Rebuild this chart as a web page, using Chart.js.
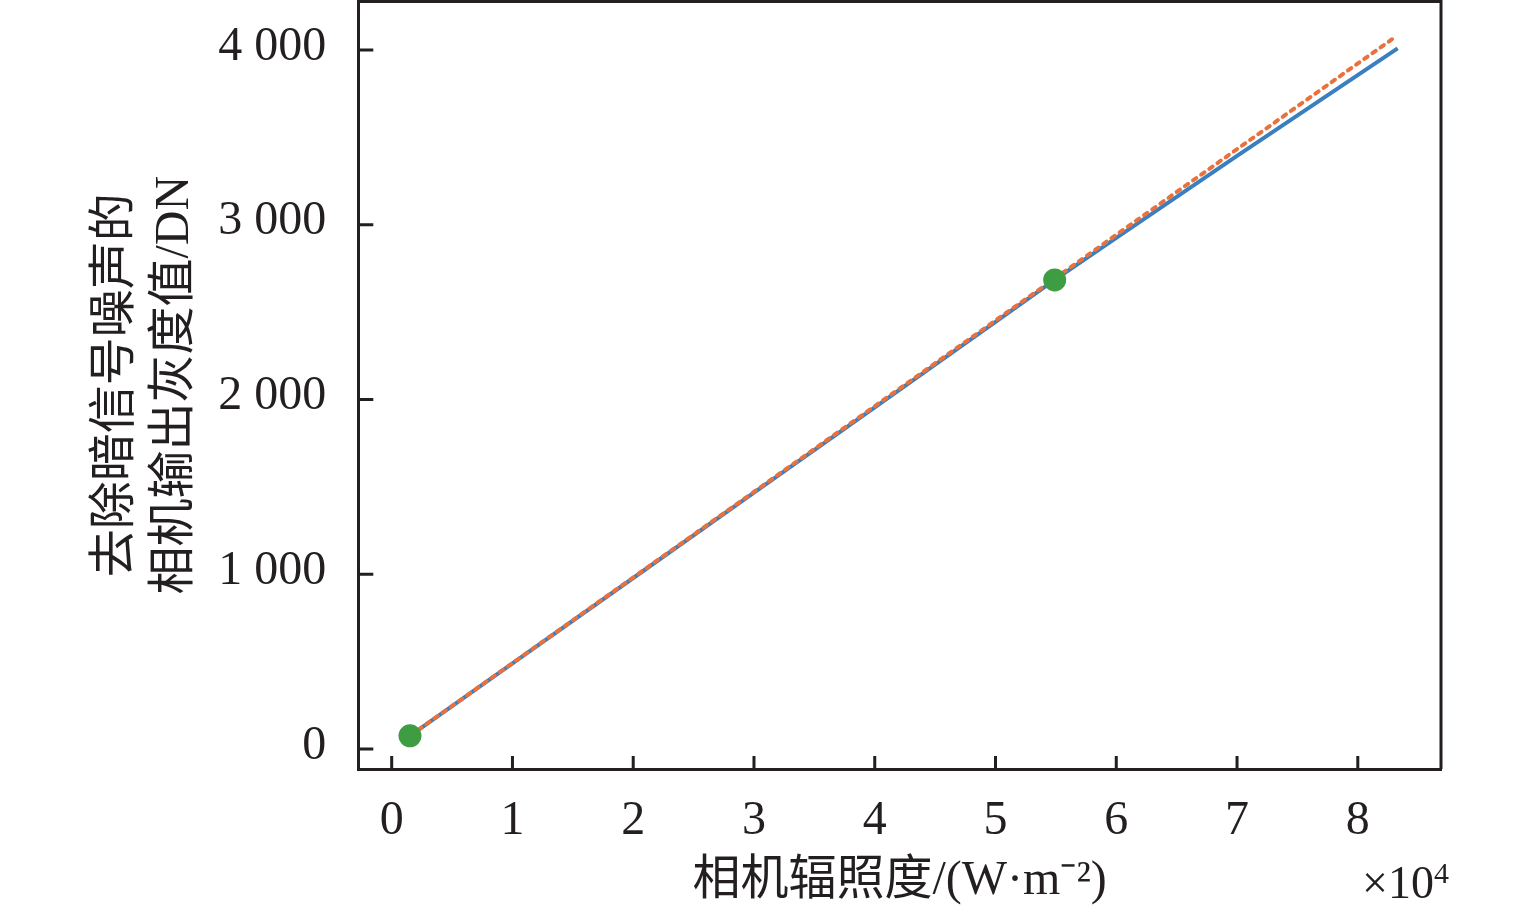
<!DOCTYPE html>
<html>
<head>
<meta charset="utf-8">
<script src="https://cdn.jsdelivr.net/npm/chart.js@4/dist/chart.umd.min.js"></script>
<style>
  html, body { margin: 0; padding: 0; background: #ffffff; }
  #c { display: block; }
</style>
</head>
<body>
<canvas id="c" width="1535" height="913"></canvas>
<script>
// ---- data (x in W·m^-2, y in DN) ----
const measuredX = [1515, 10000, 20000, 30000, 40000, 50000, 54900, 60000, 70000, 83300];
const measuredY = [76, 491, 979, 1468, 1956, 2445, 2685, 2925, 3395, 4010];
const fitX = [1515, 83100];
const fitY = [76, 4075];
const markerX = [1515, 54900];
const markerY = [76, 2685];
const xTicks = [0, 10000, 20000, 30000, 40000, 50000, 60000, 70000, 80000];
const yTicks = [0, 1000, 2000, 3000, 4000];
const xTitle = '相机辐照度/(W·m⁻²)';
const yTitle = ['去除暗信号噪声的', '相机输出灰度值/DN'];
const xExponent = '4';

const AXIS = '#231f20';
const FONT = '"Liberation Serif", "Noto Sans CJK SC", serif';

const pts = (xs, ys) => xs.map((x, i) => ({ x: x, y: ys[i] }));
const fmtY = v => {
  const s = String(Math.round(v));
  return s.length > 3 ? s.slice(0, s.length - 3) + ' ' + s.slice(-3) : s;
};

const frame = {
  id: 'frame',
  afterDraw(chart) {
    const { ctx, chartArea: a, scales } = chart;
    ctx.save();
    ctx.strokeStyle = AXIS;
    ctx.lineWidth = 3;
    ctx.beginPath();
    ctx.moveTo(a.left, a.top); ctx.lineTo(a.right, a.top); ctx.lineTo(a.right, a.bottom);
    ctx.stroke();
    // inward tick marks
    ctx.beginPath();
    scales.x.ticks.forEach(t => {
      const px = scales.x.getPixelForValue(t.value);
      ctx.moveTo(px, a.bottom); ctx.lineTo(px, a.bottom - 13);
    });
    scales.y.ticks.forEach(t => {
      const py = scales.y.getPixelForValue(t.value);
      ctx.moveTo(a.left, py); ctx.lineTo(a.left + 15, py);
    });
    ctx.stroke();
    // exponent label
    ctx.fillStyle = AXIS;
    ctx.textBaseline = 'alphabetic';
    ctx.textAlign = 'right';
    ctx.font = '30px ' + FONT;
    ctx.fillText(xExponent, 1449, 883);
    const w = ctx.measureText(xExponent).width;
    ctx.font = '46px ' + FONT;
    ctx.fillText('×10', 1449 - w, 898);
    ctx.restore();
  }
};

new Chart(document.getElementById('c'), {
  type: 'scatter',
  data: {
    datasets: [
      {
        label: 'points',
        data: pts(markerX, markerY),
        pointRadius: 11.5,
        pointHoverRadius: 11.5,
        pointBackgroundColor: '#3e9c43',
        pointBorderColor: '#3e9c43',
        pointBorderWidth: 0,
        showLine: false
      },
      {
        label: 'fit',
        data: pts(fitX, fitY),
        showLine: true,
        borderColor: '#e8713d',
        borderWidth: 4,
        borderDash: [4, 6],
        borderCapStyle: 'round',
        pointRadius: 0,
        fill: false
      },
      {
        label: 'measured',
        data: pts(measuredX, measuredY),
        showLine: true,
        borderColor: '#3a7fbf',
        borderWidth: 4,
        pointRadius: 0,
        tension: 0,
        fill: false
      }
    ]
  },
  options: {
    responsive: false,
    animation: false,
    devicePixelRatio: 1,
    layout: { autoPadding: false, padding: { left: 0, top: 1.5, right: 94, bottom: 0 } },
    plugins: { legend: { display: false }, tooltip: { enabled: false } },
    scales: {
      x: {
        type: 'linear',
        min: -2765,
        max: 86890,
        afterBuildTicks: s => { s.ticks = xTicks.map(v => ({ value: v })); },
        afterFit: s => { s.height = 144; s.paddingLeft = 0; s.paddingRight = 0; },
        grid: { display: false },
        border: { display: true, color: AXIS, width: 3 },
        ticks: {
          color: AXIS,
          font: { family: FONT, size: 48 },
          padding: 16,
          maxRotation: 0,
          autoSkip: false,
          callback: v => String(v / 10000)
        },
        title: {
          display: true,
          text: xTitle,
          color: AXIS,
          font: { family: FONT, size: 48 },
          padding: { top: 0, bottom: 3 }
        }
      },
      y: {
        type: 'linear',
        min: -114,
        max: 4278,
        afterBuildTicks: s => { s.ticks = yTicks.map(v => ({ value: v })); },
        afterFit: s => { s.width = 358.3; s.paddingTop = 0; s.paddingBottom = 0; },
        grid: { display: false },
        border: { display: true, color: AXIS, width: 3 },
        ticks: {
          color: AXIS,
          font: { family: FONT, size: 48 },
          padding: 24,
          labelOffset: -3,
          autoSkip: false,
          callback: v => fmtY(v)
        },
        title: {
          display: true,
          text: yTitle,
          color: AXIS,
          font: { family: FONT, size: 48, lineHeight: 1.23 },
          padding: { top: 87, bottom: 0 }
        }
      }
    }
  },
  plugins: [frame]
});
</script>
</body>
</html>
